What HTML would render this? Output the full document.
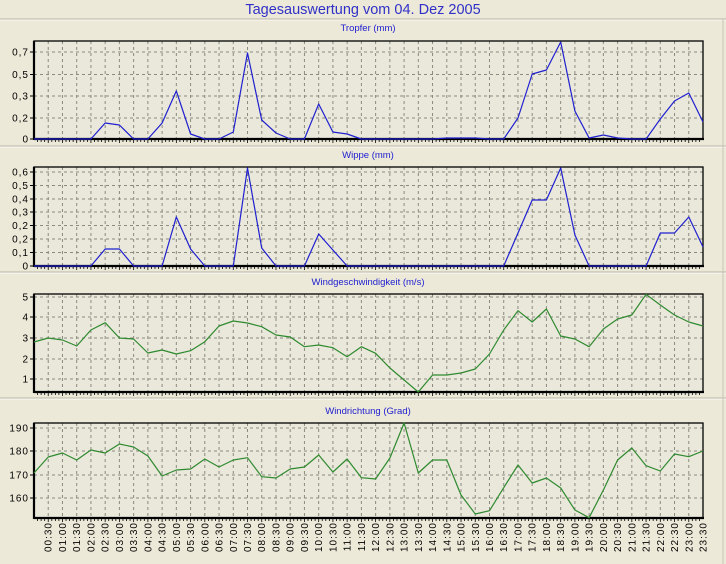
<!DOCTYPE html>
<html><head><meta charset="utf-8"><style>
html,body{margin:0;padding:0;background:#ece9d8;}
svg{display:block;}
text{font-family:"Liberation Sans",sans-serif;}
</style></head><body>
<svg id="s" width="726" height="564" xmlns="http://www.w3.org/2000/svg">
<rect width="726" height="564" fill="#ece9d8"/>
<text x="363" y="14" font-size="14.5" fill="#3030c8" text-anchor="middle">Tagesauswertung vom 04. Dez 2005</text>
</svg>
<script>
const s=document.getElementById('s');
const NS="http://www.w3.org/2000/svg";
function el(t,a,txt){const e=document.createElementNS(NS,t);for(const k in a)e.setAttribute(k,a[k]);if(txt!==undefined)e.textContent=txt;s.appendChild(e);return e;}
const X0=34,X1=703,DX=(X1-X0)/47;
const panels=[
 {title:"Tropfer (mm)",ty:31,sep:19,top:41,bot:139,col:"#2020d0",
  yl:[["0,7",52],["0,5",74.5],["0,3",96],["0,2",118],["0",139]],
  d:[139,139,139,139,139,123,125,139,139,123,91,134,139,139,132,53,120,133,139,139,104,132,134,139,139,139,139,139,139,138,138,138,139,139,118,74,70,42,111,138,135,138,139,139,119,101,93,122]},
 {title:"Wippe (mm)",ty:158,sep:146,top:167,bot:266,col:"#2020d0",
  yl:[["0,6",172],["0,5",185.5],["0,4",199],["0,3",212],["0,2",225.5],["0,2",239],["0,1",252.5],["0",266]],
  d:[266,266,266,266,266,249,249,266,266,266,217,249,266,266,266,168,248,266,266,266,234,250,266,266,266,266,266,266,266,266,266,266,266,266,233,200,200,168,235,266,266,266,266,266,233,233,217,247]},
 {title:"Windgeschwindigkeit (m/s)",ty:285,sep:272,top:294,bot:392,col:"#2f8a2f",
  yl:[["5",297],["4",317],["3",338],["2",359],["1",379]],
  d:[342,338,340,346,330,322.7,338,339,353,350,354,350.7,341.7,326,321,323,326.7,335,337,346.7,345,347.7,356.7,346.7,353.3,368,380,392,375,375,373,369,354,330,310.7,322,309,336,339,346.7,329,319,315,294.3,305,315,322,326]},
 {title:"Windrichtung (Grad)",ty:414,sep:398,top:423,bot:518,col:"#2f8a2f",
  yl:[["190",428],["180",451],["170",475],["160",498]],
  d:[473,457,453,460,450,453,444,447,456,476,470,469,459,467,460,457.7,476.7,478,469,467,455,472,459,477.7,479,458,423,473,460,460,495,514,510.7,487.7,465,483,478,488,510,517.7,490,460,448,465.7,471,454,456.7,451]}
];
for(const p of panels){
 el('line',{x1:0,x2:726,y1:p.sep,y2:p.sep,stroke:"#b8b5a4","stroke-width":1});
 el('line',{x1:0,x2:726,y1:p.sep+1,y2:p.sep+1,stroke:"#fbfaf4","stroke-width":1});
 el('text',{x:368,y:p.ty,"font-size":9.5,fill:"#2020d0","text-anchor":"middle"},p.title);
 el('rect',{x:X0,y:p.top,width:X1-X0,height:p.bot-p.top,fill:"#e9e8db"});
 for(let i=1;i<47;i++){const x=X0+i*DX;el('line',{x1:x,x2:x,y1:p.top,y2:p.bot,stroke:"#8a8a80","stroke-dasharray":"3,3","stroke-width":1});}
 for(const [t,y] of p.yl){
  if(y>p.top+1&&y<p.bot-1)el('line',{x1:X0,x2:X1,y1:y,y2:y,stroke:"#8a8a80","stroke-dasharray":"3,3","stroke-width":1});
  el('line',{x1:X0-4,x2:X0,y1:y,y2:y,stroke:"#000"});
  el('text',{x:X0-5,y:y+3.5,"font-size":10,fill:"#000","text-anchor":"end","letter-spacing":"1"},t);
 }
 for(let k=1;k<47*4;k++){const x=X0+k*DX/4;el('line',{x1:x,x2:x,y1:p.bot,y2:p.bot+(k%4==0?4:3),stroke:"#000","stroke-width":0.8});}
 el('rect',{x:X0,y:p.top,width:X1-X0,height:p.bot-p.top,fill:"none",stroke:"#000","stroke-width":1.3});
 el('line',{x1:X0,x2:X0,y1:p.top,y2:p.bot+1,stroke:"#000","stroke-width":2.2});
 el('line',{x1:X0,x2:X1+1,y1:p.bot,y2:p.bot,stroke:"#000","stroke-width":2.2});
 el('polyline',{points:p.d.map((y,i)=>(X0+i*DX).toFixed(1)+","+y).join(" "),fill:"none",stroke:p.col,"stroke-width":1.2,"stroke-linejoin":"round"});
}
el('line',{x1:723,x2:723,y1:19,y2:564,stroke:"#c8c5b4"});
for(let i=1;i<=47;i++){
 const h=Math.floor(i/2),m=i%2?"30":"00";
 const t=(h<10?"0":"")+h+":"+m;
 const x=X0+i*DX+3.5;
 el('text',{x:0,y:0,"font-size":10,fill:"#000","text-anchor":"end","letter-spacing":"1",transform:`translate(${x.toFixed(1)},522) rotate(-90)`},t);
}
</script>
</body></html>
